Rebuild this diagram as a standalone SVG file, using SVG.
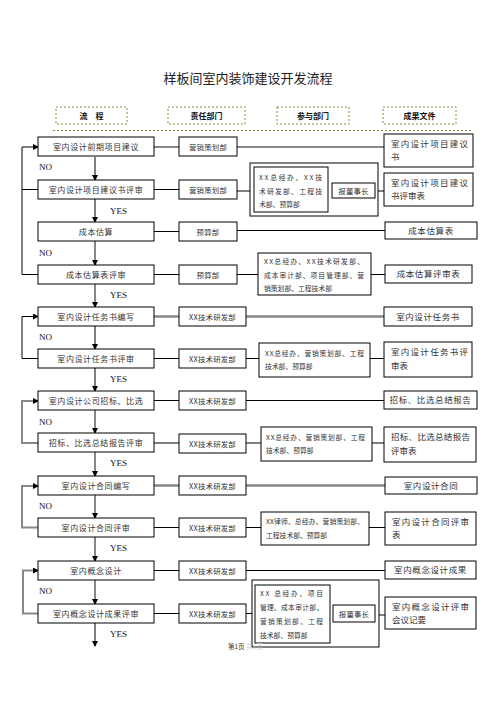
<svg xmlns="http://www.w3.org/2000/svg" width="496" height="702" viewBox="0 0 496 702">
<defs>
<style>
.t{font-family:"Noto Sans CJK SC","Liberation Serif",serif;fill:#333}
.title{font-family:"Noto Sans CJK SC",sans-serif;font-size:13px;fill:#222}
.hd{font-family:"Noto Sans CJK SC",sans-serif;font-size:8px;font-weight:bold;fill:#111}
.hbox{fill:none;stroke:#77933c;stroke-width:1;stroke-dasharray:2 2}
.box{fill:#fff;stroke:#000;stroke-width:1}
.f{font-size:8px;letter-spacing:0.6px;text-anchor:middle}
.r{font-size:7.4px;text-anchor:middle;letter-spacing:0.2px}
.p{font-size:6.8px}
.o{font-size:8.5px}
.oc{font-size:8.5px;text-anchor:middle;letter-spacing:0.6px}
.lab{font-family:"Liberation Serif",serif;font-size:9px;fill:#111}
.k{stroke:#000;stroke-width:1;fill:none}
.g{stroke:#888;stroke-width:2;fill:none}
</style>
<marker id="ak" markerWidth="6" markerHeight="6" refX="5" refY="3" orient="auto" markerUnits="userSpaceOnUse"><path d="M0,0L6,3L0,6Z" fill="#000"/></marker>
</defs>
<rect width="496" height="702" fill="#fff"/>
<text class="title" x="248" y="83" text-anchor="middle">样板间室内装饰建设开发流程</text>
<g id="headers">
<rect class="hbox" x="56" y="107" width="71" height="17"/><text class="hd" x="91.5" y="119" text-anchor="middle">流　程</text>
<rect class="hbox" x="168" y="107" width="77" height="17"/><text class="hd" x="206.5" y="119" text-anchor="middle">责任部门</text>
<rect class="hbox" x="277" y="107" width="72" height="17"/><text class="hd" x="313" y="119" text-anchor="middle">参与部门</text>
<rect class="hbox" x="383" y="107" width="73" height="17"/><text class="hd" x="419.5" y="119" text-anchor="middle">成果文件</text>
<line class="hbox" x1="53" y1="130.5" x2="473" y2="130.5"/>
</g>
<g id="connectors">
<path class="g" d="M154,147H179M237,147H384"/>
<path class="k" d="M154,189.5H179M237,191H250M378,191H384"/>
<path class="k" d="M154,231.5H179M237,230.5H385"/>
<path class="k" d="M154,274.5H179M237,274.5H258M371,274.5H385"/>
<path class="g" d="M154,316.5H179M246,316.5H384" style="stroke-width:2.5"/>
<path class="k" d="M154,358.5H179M246,358.5H259M370,358.5H384"/>
<path class="k" d="M154,400.5H179M246,400.5H384"/>
<path class="k" d="M154,443H179M246,443H261M372,443H384"/>
<path class="g" d="M154,485.5H179M246,485.5H385" style="stroke-width:2.5"/>
<path class="k" d="M154,527.5H179M246,527.5H261M369,527.5H385"/>
<path class="k" d="M154,570.5H179M246,570.5H385"/>
<path class="k" d="M154,613.5H179M246,613.5H252M379,615H385"/>
<line class="k" x1="95" y1="157" x2="95" y2="180" marker-end="url(#ak)"/>
<line class="k" x1="95" y1="199" x2="95" y2="222" marker-end="url(#ak)"/>
<line class="g" x1="95" y1="241" x2="95" y2="265" marker-end="url(#ak)"/>
<line class="g" x1="95" y1="284" x2="95" y2="307" marker-end="url(#ak)"/>
<line class="k" x1="95" y1="326" x2="95" y2="349" marker-end="url(#ak)"/>
<line class="k" x1="95" y1="368" x2="95" y2="391" marker-end="url(#ak)"/>
<line class="g" x1="95" y1="410" x2="95" y2="433" marker-end="url(#ak)"/>
<line class="g" x1="95" y1="452" x2="95" y2="476" marker-end="url(#ak)"/>
<line class="g" x1="95" y1="495" x2="95" y2="518" marker-end="url(#ak)"/>
<line class="g" x1="95" y1="537" x2="95" y2="561" marker-end="url(#ak)"/>
<line class="g" x1="95" y1="580" x2="95" y2="604" marker-end="url(#ak)"/>
<line class="k" x1="95" y1="623" x2="95" y2="646" marker-end="url(#ak)"/>
<path class="k" d="M38,274.5H22V147H38" marker-end="url(#ak)"/>
<path class="k" d="M38,189.5H22"/>
<path class="k" d="M38,358.5H22V316.5H38" marker-end="url(#ak)"/>
<path class="g" d="M38,443H22V401H38" marker-end="url(#ak)"/>
<path class="g" d="M38,527.5H22V486H38" marker-end="url(#ak)"/>
<path class="g" d="M38,613.5H23V570.5H38" marker-end="url(#ak)"/>
</g>
<g id="labels">
<text class="lab" x="39" y="170">NO</text>
<text class="lab" x="110" y="214">YES</text>
<text class="lab" x="39" y="256">NO</text>
<text class="lab" x="110" y="298">YES</text>
<text class="lab" x="39" y="340">NO</text>
<text class="lab" x="110" y="382">YES</text>
<text class="lab" x="39" y="425">NO</text>
<text class="lab" x="110" y="466">YES</text>
<text class="lab" x="39" y="509">NO</text>
<text class="lab" x="110" y="551">YES</text>
<text class="lab" x="39" y="594">NO</text>
<text class="lab" x="110" y="637">YES</text>
</g>
<g id="f1"><rect class="box" x="38" y="137" width="116" height="19"/><text class="t f" x="96" y="149.5">室内设计前期项目建议</text></g>
<g id="f2"><rect class="box" x="38" y="180" width="116" height="19"/><text class="t f" x="96" y="192.5">室内设计项目建议书评审</text></g>
<g id="f3"><rect class="box" x="38" y="222" width="116" height="19"/><text class="t f" x="96" y="234.5">成本估算</text></g>
<g id="f4"><rect class="box" x="38" y="265" width="116" height="19"/><text class="t f" x="96" y="277.5">成本估算表评审</text></g>
<g id="f5"><rect class="box" x="38" y="307" width="116" height="19"/><text class="t f" x="96" y="319.5">室内设计任务书编写</text></g>
<g id="f6"><rect class="box" x="38" y="349" width="116" height="19"/><text class="t f" x="96" y="361.5">室内设计任务书评审</text></g>
<g id="f7"><rect class="box" x="38" y="391" width="116" height="19"/><text class="t f" x="96" y="403.5">室内设计公司招标、比选</text></g>
<g id="f8"><rect class="box" x="38" y="433" width="116" height="19"/><text class="t f" x="96" y="445.5">招标、比选总结报告评审</text></g>
<g id="f9"><rect class="box" x="38" y="476" width="116" height="19"/><text class="t f" x="96" y="488.5">室内设计合同编写</text></g>
<g id="f10"><rect class="box" x="38" y="518" width="116" height="19"/><text class="t f" x="96" y="530.5">室内设计合同评审</text></g>
<g id="f11"><rect class="box" x="38" y="561" width="116" height="19"/><text class="t f" x="96" y="573.5">室内概念设计</text></g>
<g id="f12"><rect class="box" x="38" y="604" width="116" height="19"/><text class="t f" x="96" y="616.5">室内概念设计成果评审</text></g>
<g id="r1"><rect class="box" x="179" y="137" width="58" height="19"/><text class="t r" x="208" y="149.5">营销策划部</text></g>
<g id="r2"><rect class="box" x="179" y="180" width="58" height="19"/><text class="t r" x="208" y="192.5">营销策划部</text></g>
<g id="r3"><rect class="box" x="179" y="222" width="58" height="19"/><text class="t r" x="208" y="234.5">预算部</text></g>
<g id="r4"><rect class="box" x="179" y="265" width="58" height="19"/><text class="t r" x="208" y="277.5">预算部</text></g>
<g id="r5"><rect class="box" x="179" y="307" width="67" height="19"/><text class="t r" x="212.5" y="319.5">XX技术研发部</text></g>
<g id="r6"><rect class="box" x="179" y="349" width="67" height="19"/><text class="t r" x="212.5" y="361.5">XX技术研发部</text></g>
<g id="r7"><rect class="box" x="179" y="391" width="67" height="19"/><text class="t r" x="212.5" y="403.5">XX技术研发部</text></g>
<g id="r8"><rect class="box" x="179" y="434" width="67" height="19"/><text class="t r" x="212.5" y="446.5">XX技术研发部</text></g>
<g id="r9"><rect class="box" x="179" y="476" width="67" height="19"/><text class="t r" x="212.5" y="488.5">XX技术研发部</text></g>
<g id="r10"><rect class="box" x="179" y="518" width="67" height="19"/><text class="t r" x="212.5" y="530.5">XX技术研发部</text></g>
<g id="r11"><rect class="box" x="179" y="561" width="67" height="19"/><text class="t r" x="212.5" y="573.5">XX技术研发部</text></g>
<g id="r12"><rect class="box" x="179" y="604" width="67" height="19"/><text class="t r" x="212.5" y="616.5">XX技术研发部</text></g>
<g id="p2">
<rect class="box" x="250" y="163" width="128" height="53"/>
<rect class="box" x="254" y="167" width="74" height="45"/>
<text class="t p" x="259" y="180" textLength="63">XX总经办、XX技</text>
<text class="t p" x="259" y="194" textLength="63">术研发部、工程技</text>
<text class="t p" x="259" y="207">术部、预算部</text>
<rect class="box" x="332" y="183" width="43" height="15"/>
<text class="t r" x="353.5" y="193.5">报董事长</text>
</g>
<g id="p4">
<rect class="box" x="258" y="253" width="113" height="42"/>
<text class="t p" x="264" y="264" textLength="100">XX总经办、XX技术研发部、</text>
<text class="t p" x="264" y="277.5" textLength="100">成本审计部、项目管理部、营</text>
<text class="t p" x="264" y="291">销策划部、工程技术部</text>
</g>
<g id="p6">
<rect class="box" x="259" y="343" width="111" height="34"/>
<text class="t p" x="265" y="355.5" textLength="99">XX总经办、营销策划部、工程</text>
<text class="t p" x="265" y="369">技术部、预算部</text>
</g>
<g id="p8">
<rect class="box" x="261" y="427" width="111" height="34"/>
<text class="t p" x="266" y="439.5" textLength="99">XX总经办、营销策划部、工程</text>
<text class="t p" x="266" y="453">技术部、预算部</text>
</g>
<g id="p10">
<rect class="box" x="261" y="512" width="108" height="33"/>
<text class="t p" x="266" y="524" textLength="98">XX律师、总经办、营销策划部、</text>
<text class="t p" x="266" y="537.5">工程技术部、预算部</text>
</g>
<g id="p12">
<rect class="box" x="252" y="580" width="127" height="67"/>
<rect class="box" x="255" y="585" width="75" height="58"/>
<text class="t p" x="260" y="596" textLength="63">XX 总经办、项目</text>
<text class="t p" x="260" y="610" textLength="63">管理、成本审计部，</text>
<text class="t p" x="260" y="624" textLength="63">营销策划部、工程</text>
<text class="t p" x="260" y="638">技术部、预算部</text>
<rect class="box" x="333" y="605" width="42" height="17"/>
<text class="t r" x="354" y="616.5">报董事长</text>
</g>
<g id="o1"><rect class="box" x="384" y="134" width="89" height="33"/><text class="t o" x="391" y="147" textLength="77">室内设计项目建议</text><text class="t o" x="391" y="160">书</text></g>
<g id="o2"><rect class="box" x="384" y="173" width="89" height="33"/><text class="t o" x="391" y="186" textLength="77">室内设计项目建议</text><text class="t o" x="391" y="199">书评审表</text></g>
<g id="o3"><rect class="box" x="385" y="222" width="92" height="17"/><text class="t oc" x="431" y="233.5">成本估算表</text></g>
<g id="o4"><rect class="box" x="385" y="265" width="87" height="18"/><text class="t oc" x="428.5" y="277">成本估算评审表</text></g>
<g id="o5"><rect class="box" x="384" y="307" width="88" height="19"/><text class="t oc" x="428" y="319.5">室内设计任务书</text></g>
<g id="o6"><rect class="box" x="384" y="342" width="88" height="35"/><text class="t o" x="391" y="355" textLength="77">室内设计任务书评</text><text class="t o" x="391" y="369">审表</text></g>
<g id="o7"><rect class="box" x="384" y="391" width="93" height="18"/><text class="t oc" x="430.5" y="403">招标、比选总结报告</text></g>
<g id="o8"><rect class="box" x="384" y="427" width="92" height="35"/><text class="t o" x="391" y="440" textLength="79">招标、比选总结报告</text><text class="t o" x="391" y="454">评审表</text></g>
<g id="o9"><rect class="box" x="385" y="477" width="92" height="17"/><text class="t oc" x="431" y="488.5">室内设计合同</text></g>
<g id="o10"><rect class="box" x="385" y="512" width="91" height="33"/><text class="t o" x="392" y="525" textLength="77">室内设计合同评审</text><text class="t o" x="392" y="538">表</text></g>
<g id="o11"><rect class="box" x="385" y="561" width="91" height="18"/><text class="t oc" x="430.5" y="573">室内概念设计成果</text></g>
<g id="o12"><rect class="box" x="385" y="597" width="91" height="32"/><text class="t o" x="392" y="610" textLength="77">室内概念设计评审</text><text class="t o" x="392" y="623">会议记要</text></g>
<text class="t" x="228" y="649" font-size="6.5" fill="#555">第1页 <tspan fill="#ccc">共1页</tspan></text>
</svg>
